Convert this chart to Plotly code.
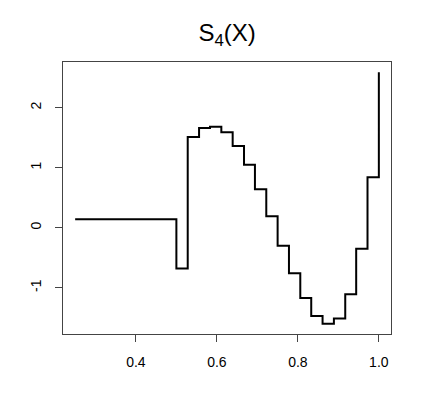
"""Step function S4(X) recreated with Plotly."""

import plotly.graph_objects as go

# knots (left end of each step) and step levels
x_knots = [0.25, 0.5, 0.528, 0.556, 0.583, 0.611, 0.639, 0.667, 0.694, 0.722,
           0.75, 0.778, 0.806, 0.833, 0.861, 0.889, 0.917, 0.944, 0.972, 1.0]
s4_vals = [0.14, -0.68, 1.51, 1.66, 1.68, 1.59, 1.36, 1.05, 0.64, 0.19,
           -0.30, -0.76, -1.17, -1.47, -1.60, -1.51, -1.11, -0.35, 0.84, 2.59]

x_ticks = [0.4, 0.6, 0.8, 1.0]
x_tick_labels = ["0.4", "0.6", "0.8", "1.0"]
y_ticks = [-1, 0, 1, 2]
y_tick_labels = ["-1", "0", "1", "2"]

fig = go.Figure(go.Scatter(
    x=x_knots,
    y=s4_vals,
    mode="lines",
    line=dict(color="black", width=2, shape="hv"),
    hoverinfo="skip",
))

axis_common = dict(
    showgrid=False,
    zeroline=False,
    showline=True,
    linecolor="#444",
    linewidth=1,
    mirror=True,
    ticks="outside",
    ticklen=7,
    tickwidth=1,
    tickcolor="#444",
    tickfont=dict(family="Liberation Sans, Arial, sans-serif", size=14, color="black"),
    ticklabelstandoff=8,
    automargin=False,
)

# the page body has an 8px margin, so the figure is a bit smaller than the window
fig.update_layout(
    width=415,
    height=403,
    paper_bgcolor="white",
    plot_bgcolor="white",
    showlegend=False,
    margin=dict(l=55, r=32, t=54, b=77),
    title=dict(
        text="S<sub>4</sub>(X)",
        x=0.528,
        xanchor="center",
        y=0.938,
        yanchor="middle",
        font=dict(family="Liberation Sans, Arial, sans-serif", size=24, color="black"),
    ),
    xaxis=dict(
        range=[0.22, 1.03],
        tickvals=x_ticks,
        ticktext=x_tick_labels,
        **axis_common,
    ),
    yaxis=dict(
        range=[-1.77, 2.76],
        tickvals=y_ticks,
        ticktext=y_tick_labels,
        tickangle=-90,
        **axis_common,
    ),
)

fig.write_html("out.html")
